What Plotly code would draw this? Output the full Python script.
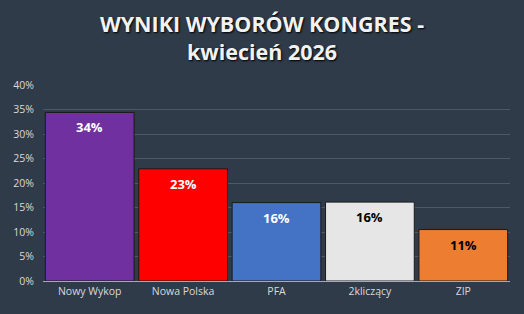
import plotly.graph_objects as go

categories = ["Nowy Wykop", "Nowa Polska", "PFA", "2kliczący", "ZIP"]
values = [34.4, 22.9, 16.0, 16.1, 10.5]
labels = ["34%", "23%", "16%", "16%", "11%"]
colors = ["#7030A0", "#FF0000", "#4472C4", "#E7E6E6", "#ED7D31"]
label_colors = ["white", "white", "white", "black", "black"]
y_ticks = [0, 5, 10, 15, 20, 25, 30, 35, 40]
y_tick_text = [f"{v}%" for v in y_ticks]

bg = "#2F3B49"

fig = go.Figure()
fig.add_trace(go.Bar(
    x=categories, y=values,
    marker=dict(color=colors, line=dict(color="#1a1a1a", width=1)),
    hoverinfo="skip",
))

for c, v, t, tc in zip(categories, values, labels, label_colors):
    fig.add_annotation(x=c, y=v, text=f"<b>{t}</b>", showarrow=False,
                       yanchor="middle", yshift=-15,
                       font=dict(family="Open Sans", size=13, color=tc))

fig.update_layout(
    width=524, height=314,
    paper_bgcolor=bg, plot_bgcolor=bg,
    margin=dict(l=43, r=14, t=85, b=33),
    bargap=0.05,
    showlegend=False,
    title=dict(
        text="<b>WYNIKI WYBORÓW KONGRES -<br>kwiecień 2026</b>",
        x=0.5, xanchor="center", y=0.897, yanchor="middle",
        font=dict(family="Open Sans", size=21.5, color="#F2F2F2",
                  shadow="1px 1px 2px #000000"),
    ),
    xaxis=dict(
        tickfont=dict(family="Open Sans", size=10.5, color="#D9D9D9"),
        showgrid=False, showline=True, linecolor="#A6A6BF", linewidth=1,
        ticks="", fixedrange=True,
    ),
    yaxis=dict(
        range=[0, 40], tickmode="array", tickvals=y_ticks, ticktext=y_tick_text,
        tickfont=dict(family="Open Sans", size=10.5, color="#D9D9D9"),
        showgrid=True, gridcolor="#4E5968", gridwidth=1,
        zeroline=False, ticks="", ticklabelstandoff=8, fixedrange=True,
    ),
)

fig.write_html("out.html")
